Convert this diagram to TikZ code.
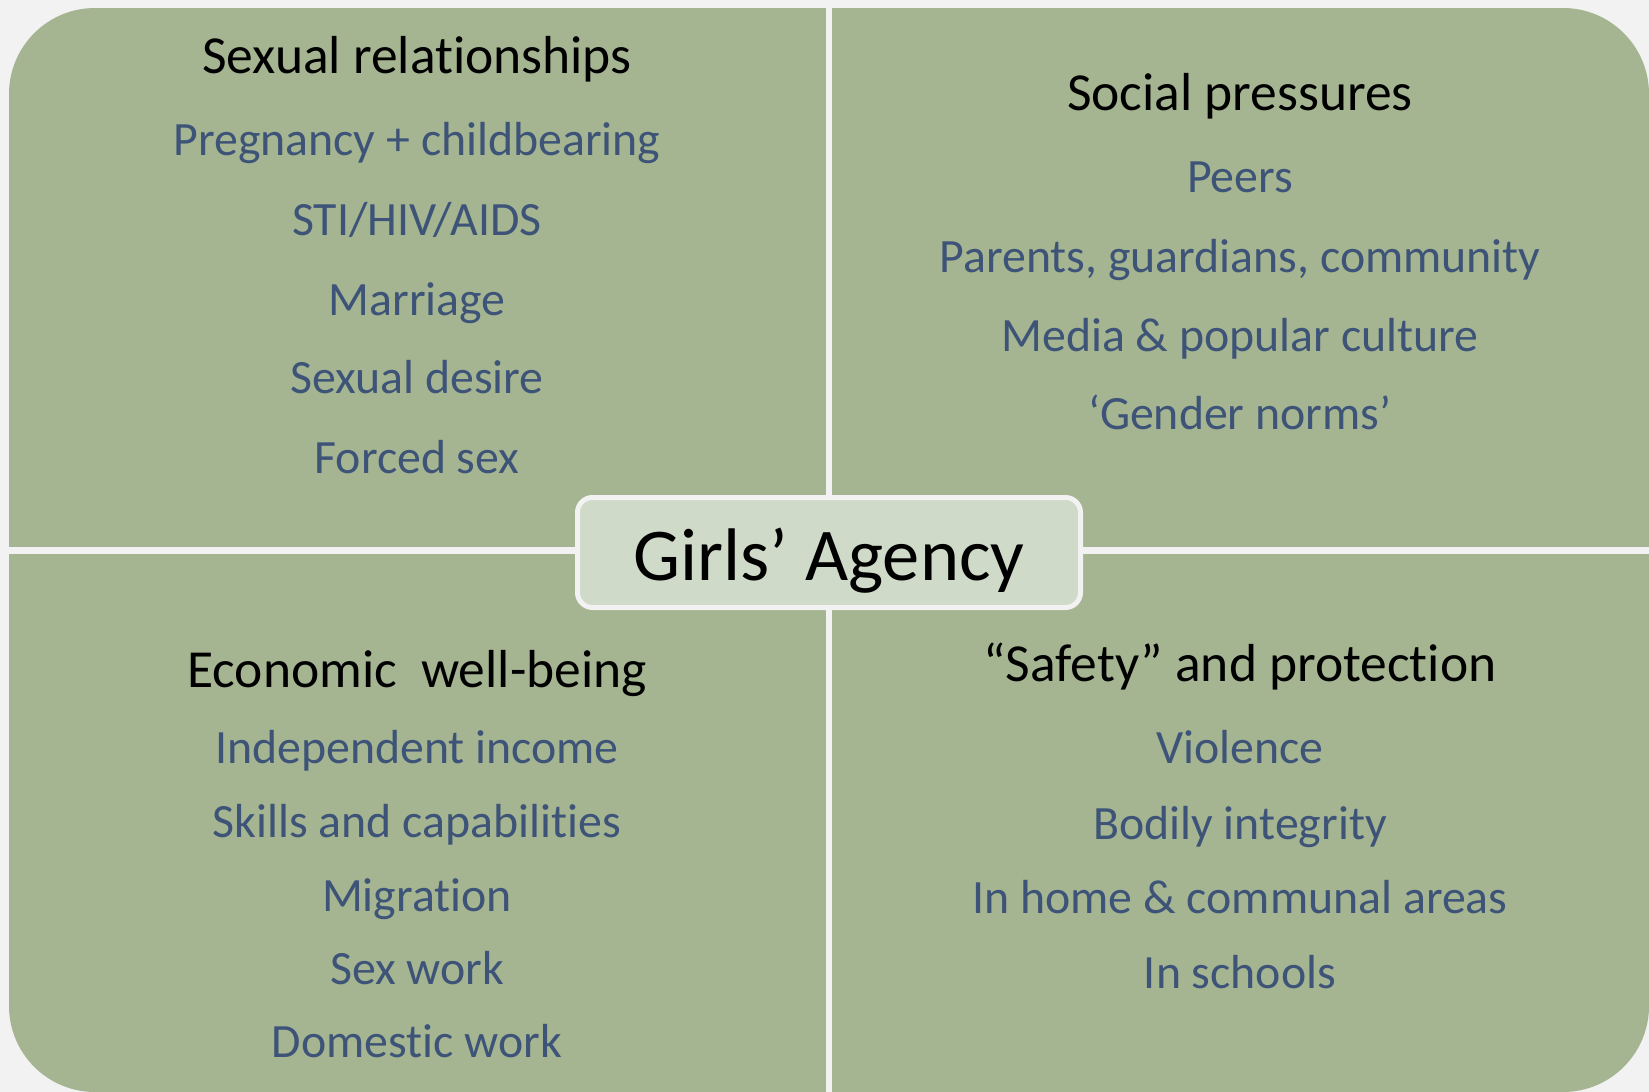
\documentclass[tikz,border=0pt]{standalone}
\usepackage{fontspec}
\setmainfont{Carlito}[Ligatures={NoCommon}]
\definecolor{pagebg}{HTML}{F2F2F2}
\definecolor{panel}{HTML}{A5B491}
\definecolor{hubfill}{HTML}{D0DAC8}
\definecolor{itemblue}{HTML}{3D5478}
\begin{document}
\begin{tikzpicture}[x=1pt,y=-1pt,
  heading/.style={anchor=base,font=\fontsize{53.5}{60}\selectfont,text=black,inner sep=0pt},
  item/.style={anchor=base,font=\fontsize{47.8}{54}\selectfont,text=itemblue,inner sep=0pt},
  hub/.style={anchor=base,font=\fontsize{74.5}{80}\selectfont,text=black,inner sep=0pt}]
% page and panel
\fill[pagebg] (0,0) rectangle (1649,1092);
\useasboundingbox (0,0) rectangle (1649,1092);
\fill[panel,rounded corners=86pt] (9,8) rectangle (1649,1092);
% dividing gaps
\fill[pagebg] (826,0) rectangle (832,1092);
\fill[pagebg] (0,547) rectangle (1649,554);
% central box
\draw[pagebg,line width=5pt,fill=hubfill,rounded corners=15pt] (577.5,497.5) rectangle (1080.5,607.5);
\node[hub] (hub) at (829,580) {Girls’ Agency};
% top left
\node[heading] (sr) at (417,73) {Sexual relationships};
\node[item] (sr1) at (417,155) {Pregnancy + childbearing};
\node[item] (sr2) at (417,235) {STI/HIV/AIDS};
\node[item] (sr3) at (417,315) {Marriage};
\node[item] (sr4) at (417,393) {Sexual desire};
\node[item] (sr5) at (417,473) {Forced sex};
% top right
\node[heading] (sp) at (1240,110) {Social pressures};
\node[item] (sp1) at (1240,192) {Peers};
\node[item] (sp2) at (1240,272) {Parents, guardians, community};
\node[item] (sp3) at (1240,351) {Media \& popular culture};
\node[item] (sp4) at (1240,429) {‘Gender norms’};
% bottom left
\node[heading] (ew) at (417,687) {Economic\ \ well-being};
\node[item] (ew1) at (417,763) {Independent income};
\node[item] (ew2) at (417,837) {Skills and capabilities};
\node[item] (ew3) at (417,911) {Migration};
\node[item] (ew4) at (417,984) {Sex work};
\node[item] (ew5) at (417,1057) {Domestic work};
% bottom right
\node[heading] (sf) at (1240,681) {“Safety” and protection};
\node[item] (sf1) at (1240,763) {Violence};
\node[item] (sf2) at (1240,839) {Bodily integrity};
\node[item] (sf3) at (1240,913) {In home \& communal areas};
\node[item] (sf4) at (1240,988) {In schools};
\end{tikzpicture}
\end{document}
